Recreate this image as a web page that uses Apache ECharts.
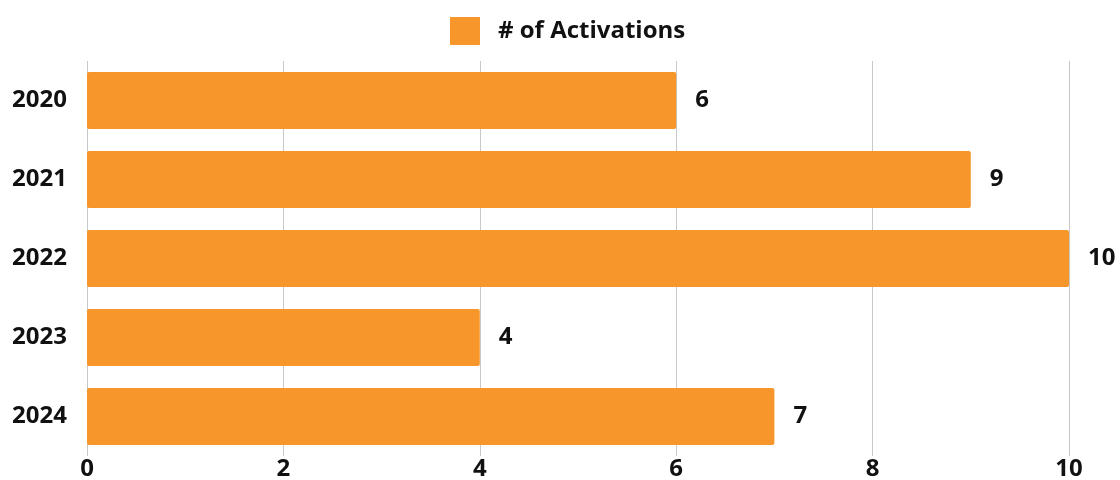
<!DOCTYPE html>
<html><head><meta charset="utf-8">
<script src="https://cdn.jsdelivr.net/npm/echarts@6/dist/echarts.min.js"></script>
<style>html,body{margin:0;padding:0;background:#fff}#c{width:1120px;height:480px}</style>
</head><body><div id="c"></div>
<script>
const categories = ['2020','2021','2022','2023','2024'];
const activations = [6, 9, 10, 4, 7];
const seriesName = '# of Activations';
const chart = echarts.init(document.getElementById('c'));
chart.setOption({
  animation: false,
  textStyle: { fontFamily: 'Open Sans' },
  legend: {
    top: 12, left: 445,
    itemWidth: 30, itemHeight: 28, itemGap: 10,
    data: [{ name: seriesName, icon: 'rect' }],
    textStyle: { fontSize: 24, fontWeight: 'bold', color: '#111', fontFamily: 'Open Sans', padding: [0,0,0,13] }
  },
  grid: { left: 87, right: 51, top: 61, bottom: 24, containLabel: false, outerBoundsMode: 'none' },
  xAxis: {
    type: 'value', min: 0, max: 10, interval: 2,
    axisLine: { show: false }, axisTick: { show: false },
    axisLabel: { fontSize: 24, fontWeight: 'bold', color: '#111', margin: 1, fontFamily: 'Open Sans' },
    splitLine: { lineStyle: { color: '#c8c8c8', width: 1 } }
  },
  yAxis: {
    type: 'category', data: categories, inverse: true,
    axisLine: { show: false }, axisTick: { show: false },
    axisLabel: { fontSize: 24, fontWeight: 'bold', color: '#111', margin: 20, fontFamily: 'Open Sans' }
  },
  series: [{
    name: seriesName, type: 'bar', data: activations,
    barCategoryGap: '27.8%',
    itemStyle: { color: '#F7962A', borderRadius: 2 },
    label: { show: true, position: 'right', distance: 19, fontSize: 24, fontWeight: 'bold', color: '#111', fontFamily: 'Open Sans' }
  }]
});
</script></body></html>
